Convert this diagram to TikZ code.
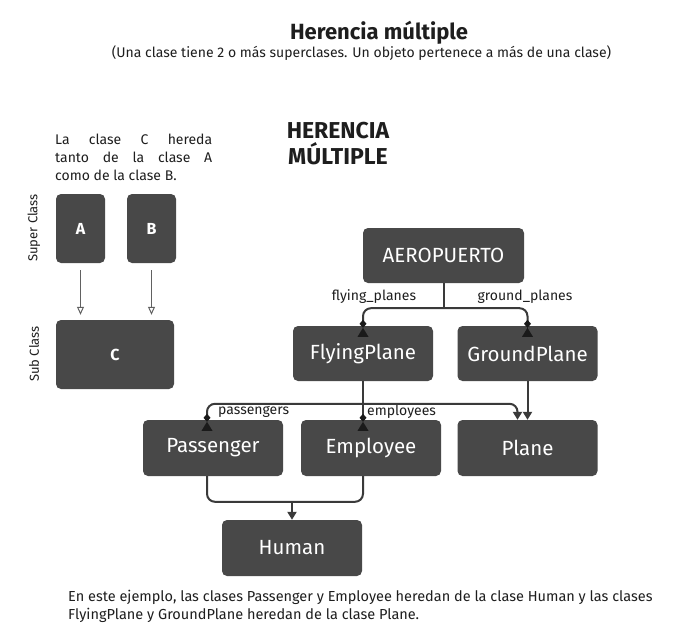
\documentclass[tikz,border=0pt]{standalone}
\usepackage{fontspec}
\setmainfont{Fira Sans}
\usetikzlibrary{arrows.meta,calc}
\definecolor{boxc}{HTML}{484848}
\definecolor{linec}{HTML}{3A3A3A}
\definecolor{txtc}{HTML}{1E1E1E}
\definecolor{tric}{HTML}{1A1A1A}
\begin{document}
\begin{tikzpicture}[x=1pt,y=-1pt,
  cls/.style={fill=boxc,rounded corners=5pt,text=white,font=\fontsize{20.5}{22}\selectfont,minimum width=140pt,minimum height=55pt,inner sep=0pt},
  small/.style={fill=boxc,rounded corners=5pt,text=white,font=\bfseries\fontsize{16}{18}\selectfont,minimum width=49pt,minimum height=69pt,inner sep=0pt},
  ln/.style={draw=linec,line width=2pt},
  tip/.style={-{Triangle[width=9pt,length=8pt]}},
  oa/.style={draw=linec!80,line width=1pt,-{Triangle[open,width=7pt,length=8pt,line width=1pt]}},
  lbl/.style={text=txtc,font=\fontsize{14}{16}\selectfont,inner sep=0pt},
]
\useasboundingbox (0,0) rectangle (688,629);
\fill[white] (0,0) rectangle (688,629);

% titles
\node[text=txtc,font=\bfseries\fontsize{22}{24}\selectfont] (title) at (379,33) {Herencia múltiple};
\node[text=txtc,font=\fontsize{14}{16}\selectfont] (sub) at (361.5,53) {(Una clase tiene 2 o más superclases. Un objeto pertenece a más de una clase)};
\node[text=txtc,font=\bfseries\fontsize{23}{26}\selectfont,align=center] (hm) at (338,144) {HERENCIA\\MÚLTIPLE};

% left example
\node[text=txtc,font=\fontsize{14}{18}\selectfont,anchor=north west,inner sep=0pt,align=left] (expl) at (55,134) {\makebox[157pt][s]{La clase C hereda}\\\makebox[157pt][s]{tanto de la clase A}\\como de la clase B.};
\node[small] (A) at (80.5,228.5) {A};
\node[small] (B) at (151.5,228.5) {B};
\node[small,minimum width=118pt] (C) at (115,354.5) {C};
\draw[oa] ($(A.south)+(0,7)$) -- ($(A.south |- C.north)+(0,-5)$);
\draw[oa] ($(B.south)+(0,7)$) -- ($(B.south |- C.north)+(0,-5)$);
\node[text=txtc,font=\fontsize{13}{15}\selectfont,rotate=90] (sup) at (34,228) {Super Class};
\node[text=txtc,font=\fontsize{13}{15}\selectfont,rotate=90] (sbc) at (34,354) {Sub Class};

% main diagram
\node[cls,minimum width=161pt] (aero) at (443.5,255.5) {AEROPUERTO};
\node[cls] (fp) at (363,353.5) {FlyingPlane};
\node[cls] (gp) at (527.5,353.5) {GroundPlane};
\node[cls,minimum height=56pt] (pas) at (213,448) {Passenger};
\node[cls,minimum height=56pt] (emp) at (371,448) {Employee};
\node[cls,minimum height=56pt] (pl) at (527.5,448) {Plane};
\node[cls,minimum height=56pt] (hum) at (292,548) {Human};

% aeropuerto connectors
\coordinate (aj) at ($(aero.south)+(0,25)$);
\draw[ln] (aero.south) -- (aj);
\draw[ln,rounded corners=8pt] (fp.north) |- (aj) -| (gp.north);
\node[lbl] (l1) at (374,297) {flying\_planes};
\node[lbl] (l2) at (525,297) {ground\_planes};

% flying plane -> employee
\coordinate (ej) at (fp.south |- emp.north);
\draw[ln] (fp.south) -- (ej);
\node[lbl,anchor=west] (l3) at ($(ej)+(4,-8)$) {employees};

% passenger -> plane
\coordinate (pj) at ($(pas.north)+(-6,0)$);
\coordinate (pt) at ($(pl.north)+(-10,0)$);
\draw[ln,rounded corners=8pt,tip] (pj) |- ($(pt)+(0,-16)$) -- (pt);
\node[lbl,anchor=west] (l4) at ($(pj)+(11,-8)$) {passengers};

% groundplane -> plane
\draw[ln,tip] (gp.south) -- (pl.north);

% passenger/employee -> human
\coordinate (hb) at ($(pas.south)+(-6,0)$);
\coordinate (eb) at (ej |- emp.south);
\coordinate (hj) at ($(hum.north)+(0,-18)$);
\draw[ln,rounded corners=8pt] (hb) |- (hj) -| (eb);
\draw[ln,tip] (hj) -- (hum.north);

% diamond + triangle decorations
\foreach \p in {fp.north, gp.north, ej, pj} {
  \fill[tric] ($(\p)+(0,-6)$) -- ++(3.5,4) -- ++(-3.5,4) -- ++(-3.5,-4) -- cycle;
  \fill[tric] ($(\p)+(0,2)$) -- ++(5.5,9) -- ++(-11,0) -- cycle;
}

% bottom text
\node[text=txtc,font=\fontsize{14.5}{18}\selectfont,anchor=north west,inner sep=0pt,align=left] (foot) at (68,590) {En este ejemplo, las clases Passenger y Employee heredan de la clase Human y las clases\\FlyingPlane y GroundPlane heredan de la clase Plane.};
\end{tikzpicture}
\end{document}
